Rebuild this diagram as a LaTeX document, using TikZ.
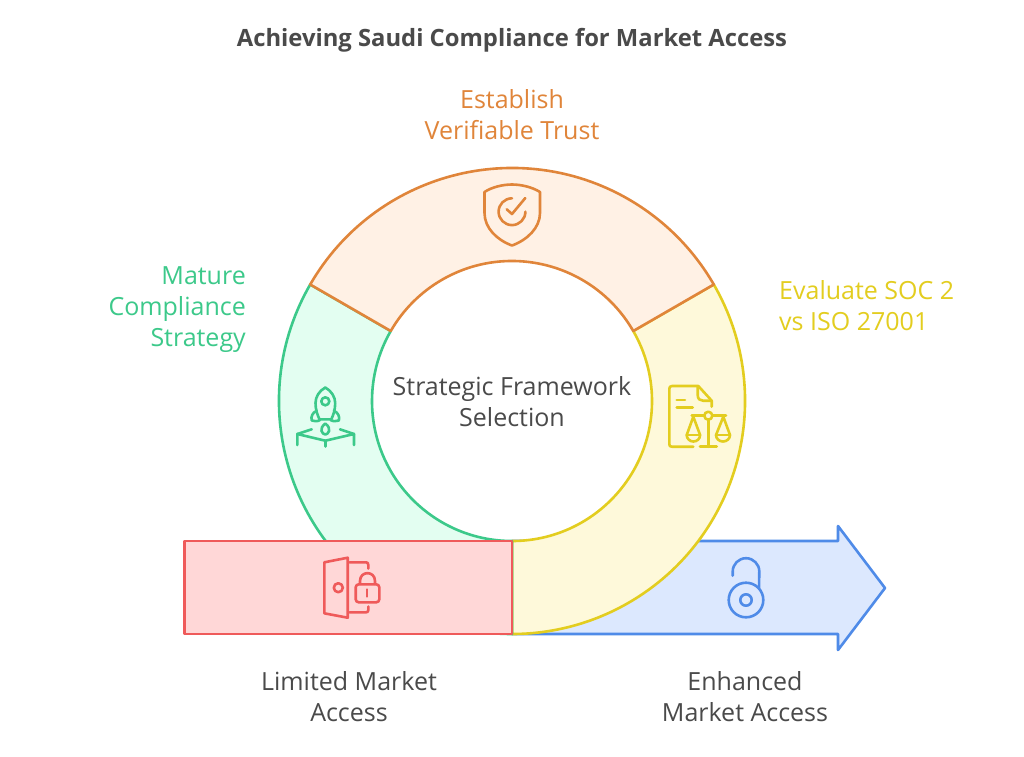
\documentclass[tikz,border=0pt]{standalone}
\usepackage{fontspec}
\setmainfont{Open Sans}
\usetikzlibrary{calc}
\definecolor{ink}{HTML}{4A4A4A}
\definecolor{orgS}{HTML}{E0853A}\definecolor{orgF}{HTML}{FFF1E5}
\definecolor{grnS}{HTML}{3CC98A}\definecolor{grnF}{HTML}{E3FEF1}
\definecolor{yelS}{HTML}{E3CD1F}\definecolor{yelF}{HTML}{FEF9DA}
\definecolor{redS}{HTML}{EF5A5A}\definecolor{redF}{HTML}{FFD7D7}
\definecolor{bluS}{HTML}{4F8BE8}\definecolor{bluF}{HTML}{DCE8FE}
\tikzset{
 shapeline/.style={line width=2.6pt,line join=round},
 iconline/.style={line width=2.6pt,line cap=round,line join=round,fill=none},
 lbl/.style={font=\fontsize{25}{31}\selectfont,align=center,inner sep=0pt},
 lblL/.style={font=\fontsize{25}{31}\selectfont,align=left,inner sep=0pt},
 lblR/.style={font=\fontsize{25}{31}\selectfont,align=right,inner sep=0pt},
}
\begin{document}
\begin{tikzpicture}[x=1pt,y=-1pt]
\useasboundingbox (0,0) rectangle (1024,756);
\fill[white] (0,0) rectangle (1024,756);
% blue arrow
\draw[shapeline,draw=bluS,fill=bluF] (512,634) -- (838,634) -- (838,650) -- (885,588) -- (838,526) -- (838,541) -- (512,541);
% ring
\draw[shapeline,draw=yelS,fill=yelF] (512,401) ++(-30:233) arc[start angle=-30,end angle=90,radius=233] -- (512,541) arc[start angle=90,end angle=-30,radius=140] -- cycle;
\draw[shapeline,draw=grnS,fill=grnF] (512,401) ++(-150:233) arc[start angle=-150,end angle=-270,radius=233] -- (512,541) arc[start angle=90,end angle=210,radius=140] -- cycle;
\draw[shapeline,draw=orgS,fill=orgF] (512,401) ++(-150:233) arc[start angle=-150,end angle=-30,radius=233] -- ($(512,401)+(-30:140)$) arc[start angle=-30,end angle=-150,radius=140] -- cycle;
% red box
\draw[shapeline,draw=redS,fill=redF] (184.5,541) rectangle (512,634);
% shield icon
\begin{scope}[iconline,draw=orgS]
\draw (484.5,192) .. controls (492,187) and (503,184.5) .. (512,184.5) .. controls (521,184.5) and (532,187) .. (540,192) -- (540,213) .. controls (540,228) and (527,240) .. (512,245.5) .. controls (497,240) and (484.5,228) .. (484.5,213) -- cycle;
\draw (512,198.3) arc[start angle=-90,end angle=-360,radius=13.4];
\draw (506.7,209.3) -- (512,214) -- (525.3,198);
\end{scope}
% rocket icon
\begin{scope}[iconline,draw=grnS]
\draw (325.3,387.5) .. controls (319,391) and (315.5,397) .. (315.5,403) .. controls (315.5,410) and (317.5,415) .. (319.5,419.3) -- (331.3,419.3) .. controls (333.3,415) and (335.2,410) .. (335.2,403) .. controls (335.2,397) and (331.5,391) .. (325.3,387.5) -- cycle;
\draw (325.3,401.3) circle[radius=4];
\draw (316.7,410.7) .. controls (312.5,412.5) and (310.5,417) .. (311.8,420.5) .. controls (314,421.5) and (318,421.5) .. (320,420);
\draw (333.9,410.7) .. controls (338.1,412.5) and (340.1,417) .. (338.8,420.5) .. controls (336.6,421.5) and (332.6,421.5) .. (330.6,420);
\draw (325.3,423.5) .. controls (322,426) and (320.8,429) .. (321.5,431) .. controls (322,433) and (324,434.5) .. (325.3,434.5) .. controls (326.6,434.5) and (328.6,433) .. (329.1,431) .. controls (329.8,429) and (328.6,426) .. (325.3,423.5) -- cycle;
\draw (311.7,429.3) -- (297.3,434) -- (297.3,445);
\draw (297.3,434) -- (325.3,440.7) -- (354,434) -- (354,445);
\draw (340,429.3) -- (354,434);
\draw (325.3,440.7) -- (325.3,446.5);
\end{scope}
% document and scales icon
\begin{scope}[iconline,draw=yelS]
\draw (693.3,446.7) -- (672,446.7) .. controls (670,446.7) and (669.3,446) .. (669.3,444) -- (669.3,389) .. controls (669.3,387) and (670,386) .. (672,386) -- (698.3,386) -- (711.7,400.7) -- (711.7,406.7);
\draw (697.7,387) -- (697.7,395) .. controls (697.7,399) and (700,400.7) .. (703,400.7) -- (711,400.7);
\draw (676.7,400) -- (685,400);
\draw (676.7,407.7) -- (692.7,407.7);
\draw (708.3,415.7) circle[radius=4];
\draw (691.7,415.7) -- (704.3,415.7);
\draw (712.3,415.7) -- (726,415.7);
\draw (708.3,419.7) -- (708.3,446.7);
\draw (700,446.7) -- (716.7,446.7);
\draw (693.3,416.7) -- (686.7,435) arc[start angle=180,end angle=0,x radius=6.7,y radius=6.5] -- cycle;
\draw (686.7,435) -- (700,435);
\draw (723.3,416.7) -- (716,435) arc[start angle=180,end angle=0,x radius=7,y radius=6.5] -- cycle;
\draw (716,435) -- (730,435);
\end{scope}
% door and padlock icon
\begin{scope}[iconline,draw=redS]
\draw (324.3,562.3) -- (347.7,557.7) -- (347.7,617.7) -- (324.3,613.3) -- cycle;
\draw (338.3,587.7) circle[radius=4.5];
\draw (349.5,562.3) -- (366,562.3) .. controls (367.5,562.3) and (368.3,563) .. (368.3,565) -- (368.3,568.5);
\draw (349.5,612.3) -- (366,612.3) .. controls (367.5,612.3) and (368.3,611.5) .. (368.3,610) -- (368.3,606.5);
\draw[rounded corners=3pt] (355.7,584.3) rectangle (379.3,602.3);
\draw (360,584) -- (360,581) .. controls (360,570.5) and (375,570.5) .. (375,581) -- (375,584);
\draw (367,589.5) -- (367,596.5);
\end{scope}
% open padlock icon
\begin{scope}[iconline,draw=bluS]
\draw (746,600) circle[radius=17.3];
\draw (746,600) circle[radius=5.7];
\draw (732.7,575.7) -- (732.7,571.5) arc[start angle=180,end angle=360,radius=13.3] -- (759,588.3);
\end{scope}
% labels
\node[font=\fontsize{23.8}{31}\selectfont\bfseries,text=ink,inner sep=0pt] (title) at (512,40) {Achieving Saudi Compliance for Market Access};
\node[lbl,text=orgS] (trust) at (512,115) {Establish\\Verifiable Trust};
\node[lblR,text=grnS,anchor=east] (mature) at (246,310) {Mature\\Compliance\\Strategy};
\node[lblL,text=yelS,anchor=west] (soc) at (779,306) {Evaluate SOC 2\\vs ISO 27001};
\node[lbl,text=ink] (core) at (512,402) {Strategic Framework\\Selection};
\node[lbl,text=ink] (limited) at (349,697) {Limited Market\\Access};
\node[lbl,text=ink] (enhanced) at (745,697) {Enhanced\\Market Access};
\end{tikzpicture}
\end{document}
